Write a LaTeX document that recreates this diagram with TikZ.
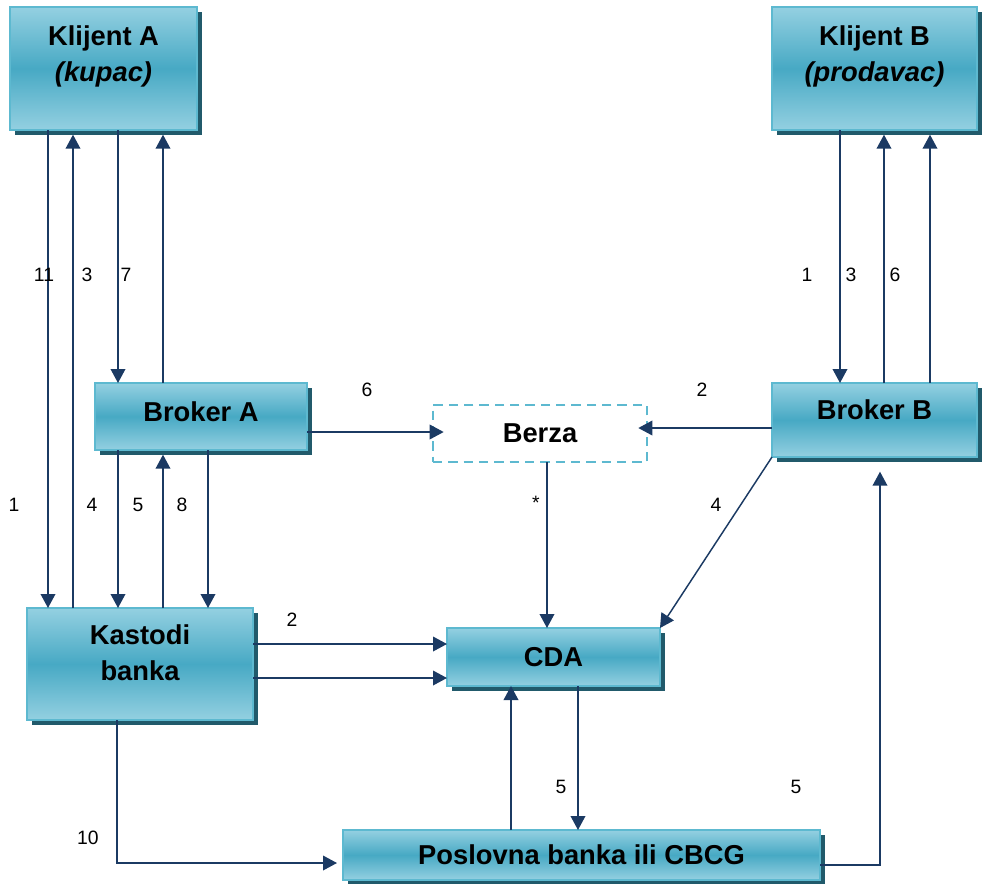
\documentclass[tikz,border=0pt]{standalone}
\usepackage{fontspec}
\setmainfont{Liberation Sans}
\usetikzlibrary{arrows.meta,shadows}

\definecolor{boxtop}{HTML}{94D0E1}
\definecolor{boxmid}{HTML}{47A9C4}
\definecolor{boxline}{HTML}{5DB9D0}
\definecolor{boxshade}{HTML}{215A6B}
\definecolor{arrowc}{HTML}{1B3A63}

\begin{document}
\begin{tikzpicture}[x=0.75pt,y=-0.75pt,
    box/.style={draw=boxline, line width=1.5pt, top color=boxtop, bottom color=boxtop,
      middle color=boxmid, outer sep=0pt, inner sep=0pt,
      font=\bfseries\fontsize{20.5}{27}\selectfont,
      drop shadow={shadow xshift=3.5pt, shadow yshift=-3.5pt, fill=boxshade, opacity=1}},
    boxtext/.style={font=\bfseries\fontsize{20.5}{27}\selectfont, align=center, inner sep=0pt},
    berzabox/.style={draw=boxline, line width=1.5pt, fill=white, outer sep=0pt,
      dash pattern=on 7pt off 4.5pt, font=\bfseries\fontsize{20.5}{27}\selectfont},
    arr/.style={draw=arrowc, line width=1.1pt, -{Triangle[width=11pt,length=10.5pt]}},
    num/.style={font=\fontsize{14.5}{16}\selectfont, inner sep=1pt}]
  \useasboundingbox (0,0) rectangle (983,883);

  % boxes
  \node[box, minimum width=140.25pt, minimum height=92.25pt] (klA) at (103.5,68.5) {};
  \node[boxtext] (klAtxt) at (103.5,56.5) {Klijent A\\\textit{(kupac)}};
  \node[box, minimum width=153.75pt, minimum height=92.25pt] (klB) at (874.5,68.5) {};
  \node[boxtext] (klBtxt) at (874.5,56.5) {Klijent B\\\textit{(prodavac)}};
  \node[box, minimum width=159pt, minimum height=50.25pt, text depth=7.5pt] (brA) at (201,416.5) {Broker A};
  \node[box, minimum width=153.75pt, minimum height=55.5pt, text depth=15pt] (brB) at (874.5,420) {Broker B};
  \node[berzabox, minimum width=160.5pt, minimum height=42.75pt] (berza) at (540,433.5) {Berza};
  \node[box, minimum width=169.5pt, minimum height=84pt] (kast) at (140,664) {};
  \node[boxtext] (kasttxt) at (140,653) {Kastodi\\banka};
  \node[box, minimum width=159.75pt, minimum height=43.5pt] (cda) at (553.5,657) {CDA};
  \node[box, minimum width=357.75pt, minimum height=37.5pt] (posl) at (581.5,855) {Poslovna banka ili CBCG};

  % Klijent A
  \draw[arr] (klA.south -| 48,0) -- (kast.north -| 48,0);
  \draw[arr, shorten >=3.5pt] (kast.north -| 73,0) -- (klA.south -| 73,0);
  \draw[arr] (klA.south -| 118,0) -- (brA.north -| 118,0);
  \draw[arr, shorten >=3.5pt] (brA.north -| 163,0) -- (klA.south -| 163,0);

  % Broker A / Kastodi
  \draw[arr] (brA.south -| 118,0) -- (kast.north -| 118,0);
  \draw[arr, shorten >=3.5pt] (kast.north -| 163,0) -- (brA.south -| 163,0);
  \draw[arr] (brA.south -| 208,0) -- (kast.north -| 208,0);

  % Berza
  \draw[arr, shorten >=-8pt] (brA.east |- 0,432) -- (berza.west |- 0,432);
  \draw[arr, shorten >=-6.5pt] (brB.west |- 0,428) -- (berza.east |- 0,428);
  \draw[arr] (berza.south -| 547,0) -- (cda.north -| 547,0);
  \draw[arr] (brB.south west) -- (cda.north east);

  % Kastodi / CDA / banka
  \draw[arr] (kast.east |- 0,644) -- (cda.west |- 0,644);
  \draw[arr] (kast.east |- 0,678) -- (cda.west |- 0,678);
  \draw[arr, shorten >=4.5pt] (kast.south -| 117,0) |- (posl.west |- 0,863);
  \draw[arr] (posl.north -| 511,0) -- (cda.south -| 511,0);
  \draw[arr] (cda.south -| 578,0) -- (posl.north -| 578,0);
  \draw[arr, shorten >=11pt] (posl.east |- 0,865) -| (brB.south -| 880,0);

  % Klijent B
  \draw[arr] (klB.south -| 840,0) -- (brB.north -| 840,0);
  \draw[arr, shorten >=3.5pt] (brB.north -| 884,0) -- (klB.south -| 884,0);
  \draw[arr, shorten >=3.5pt] (brB.north -| 930,0) -- (klB.south -| 930,0);

  % numbers
  \node[num] (n11) at (44,275) {11};
  \node[num] (n3a) at (87,275) {3};
  \node[num] (n7) at (126,275) {7};
  \node[num] (n1a) at (14,505) {1};
  \node[num] (n4a) at (92,505) {4};
  \node[num] (n5a) at (138,505) {5};
  \node[num] (n8) at (182,505) {8};
  \node[num] (n6a) at (367,390) {6};
  \node[num] (n2a) at (702,390) {2};
  \node[num] (nst) at (536,503) {*};
  \node[num] (n4b) at (716,505) {4};
  \node[num] (n2b) at (292,620) {2};
  \node[num] (n10) at (88,838) {10};
  \node[num] (n5b) at (561,787) {5};
  \node[num] (n5c) at (796,787) {5};
  \node[num] (n1b) at (807,275) {1};
  \node[num] (n3b) at (851,275) {3};
  \node[num] (n6b) at (895,275) {6};
\end{tikzpicture}
\end{document}
